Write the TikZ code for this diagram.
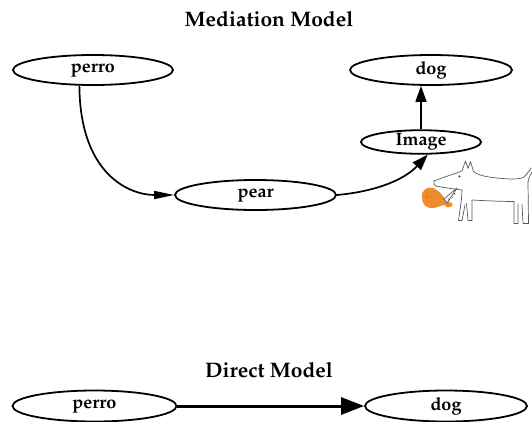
\documentclass[tikz,border=0pt]{standalone}
\usepackage[T1]{fontenc}
\usepackage{mathpazo}
\usetikzlibrary{shapes.geometric,arrows.meta}
\definecolor{meat}{HTML}{EE8B2C}
\definecolor{meatdark}{HTML}{D2691E}
\begin{document}
\begin{tikzpicture}[x=1pt,y=-1pt,
 ell/.style={ellipse,draw,line width=1.8pt,inner sep=0pt,font=\fontsize{18}{21}\selectfont\bfseries},
 ttl/.style={font=\fontsize{21}{25}\selectfont\bfseries},
 edge/.style={line width=1.7pt,-{Triangle[length=16pt,width=11pt]}},
 longedge/.style={line width=1.7pt,-{Triangle[length=20pt,width=8pt]}},
 bigedge/.style={line width=3pt,-{Triangle[length=23pt,width=17pt]}},
 dogline/.style={draw=black!65,line width=0.7pt,line cap=round,line join=round}]
\useasboundingbox (0,0) rectangle (532,421);
% titles
\node[ttl] (t1) at (269,19) {Mediation Model};
\node[ttl] (t2) at (269,370) {Direct Model};
% mediation model
\node[ell,minimum width=160pt,minimum height=30pt] (perro) at (93,70) {perro};
\node[ell,minimum width=162pt,minimum height=30pt] (dog) at (431,70) {dog};
\node[ell,minimum width=120pt,minimum height=23pt] (img) at (421,142) {Image};
\node[ell,minimum width=161pt,minimum height=30pt] (pear) at (255.5,195) {pear};
\draw[longedge] (perro.229) .. controls (80,175) and (130,195) .. (pear.west);
\draw[edge] (pear.east) .. controls (380,191) and (406,178) .. (img.298);
\draw[edge] (img.north) -- (img.north |- dog.south);
% direct model
\node[ell,minimum width=164pt,minimum height=31pt] (perro2) at (94.5,406) {perro};
\node[ell,minimum width=162pt,minimum height=31pt] (dog2) at (446,406) {dog};
\draw[bigedge] (perro2.east) -- (dog2.west);
% dog sketch
\begin{scope}
 % drumstick
 \fill[meat] (422,197) .. controls (421,190) and (428,186) .. (433,188)
   .. controls (438,190) and (442,194) .. (445,199)
   -- (449,202) .. controls (453,202) and (454,207) .. (450,207)
   .. controls (448,209) and (445,207) .. (445,205)
   .. controls (440,205) and (436,209) .. (430,208)
   .. controls (424,207) and (422,202) .. (422,197) -- cycle;
 \fill[meatdark] (427,197) circle (1.2);
 % stick in mouth
 \draw[dogline,fill=white] (444,199) -- (457,188) -- (447,203) -- cycle;
 \draw[dogline] (448,198.5) -- (449.5,200) (451,196) -- (452.5,197.5) (454,193) -- (455,194.5);
 % head and ears
 \draw[dogline] (434,181) .. controls (444,177) and (454,174) .. (462,171)
   -- (465.5,161) -- (468,168.5) -- (470.5,161.5) -- (473.5,171.5);
 \draw[dogline] (434,181) .. controls (433,183) and (434,185.5) .. (436,186);
 \draw[dogline] (436,186) .. controls (446,188) and (455,189) .. (462,190);
 \fill[black!75] (459.5,176.5) circle (1.1);
 % back and tail
 \draw[dogline] (473.5,171.5) .. controls (480,177) and (495,178) .. (510,179)
   .. controls (516,179) and (521,179) .. (524,177)
   .. controls (527,174) and (529,171) .. (531,168);
 \draw[dogline] (532,172) .. controls (530,175) and (528.5,178) .. (528,182);
 % chest
 \draw[dogline] (462,190) -- (461.5,199);
 % underside
 \draw[dogline] (472,200) .. controls (490,201) and (505,201.5) .. (514,201.5);
 % front legs
 \draw[dogline] (461.5,199) -- (458.5,220.5) -- (462,220.5) -- (465,205)
   (466.5,203.5) -- (468,220.5) -- (472,220.5) -- (472,200);
 % back legs
 \draw[dogline] (514,201.5) -- (514,223.5) -- (518,223.5) -- (518,204)
   (522,204) -- (523,223.5) -- (528.5,223.5) -- (528,182);
\end{scope}
\end{tikzpicture}
\end{document}
